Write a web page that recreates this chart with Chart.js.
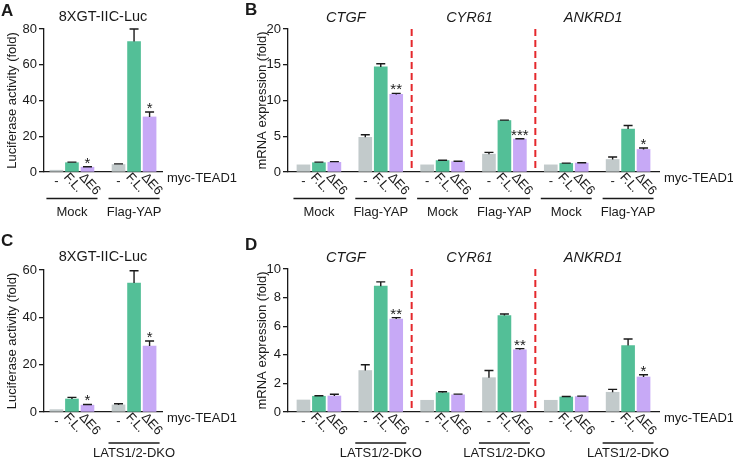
<!DOCTYPE html>
<html>
<head>
<meta charset="utf-8">
<script src="https://cdn.jsdelivr.net/npm/chart.js@4.4.0/dist/chart.umd.min.js"></script>
<style>
  body { margin: 0; background: #fff; }
  #wrap { position: relative; width: 733px; height: 458px; }
  #wrap canvas { position: absolute; left: 0; top: 0; }
</style>
</head>
<body>
<div id="wrap">
  <canvas id="chartA" width="733" height="458"></canvas>
  <canvas id="chartB" width="733" height="458"></canvas>
  <canvas id="chartC" width="733" height="458"></canvas>
  <canvas id="chartD" width="733" height="458"></canvas>
</div>
<script>
// Categories
const treatments = ['-', 'F.L.', 'ΔE6'];
const genes = ['CTGF', 'CYR61', 'ANKRD1'];
const groupsTop = ['Mock', 'Flag-YAP'];
const groupsBottom = ['', 'LATS1/2-DKO'];

// Panel A - luciferase, Mock / Flag-YAP
const lucAMean = [1.0, 5.2, 2.7, 4.2, 73.0, 30.8];
const lucAErr = [0, 0.3, 0.25, 0.35, 7.0, 2.8];
const lucAStars = ['', '', '*', '', '', '*'];

// Panel C - luciferase, LATS1/2-DKO
const lucCMean = [1.0, 5.5, 2.9, 3.0, 54.5, 27.9];
const lucCErr = [0, 0.7, 0.3, 0.5, 5.2, 2.1];
const lucCStars = ['', '', '*', '', '', '*'];

// Panel B - mRNA, CTGF / CYR61 / ANKRD1 x Mock / Flag-YAP
const mrnaBMean = [1.0, 1.3, 1.35, 4.85, 14.7, 10.85, 1.0, 1.6, 1.45, 2.5, 7.2, 4.6, 1.0, 1.2, 1.25, 1.75, 6.0, 3.15];
const mrnaBErr = [0, 0.08, 0.1, 0.35, 0.45, 0.15, 0, 0.05, 0.05, 0.25, 0.06, 0.05, 0, 0.04, 0.04, 0.35, 0.5, 0.2];
const mrnaBStars = ['', '', '', '', '', '**', '', '', '', '', '', '***', '', '', '', '', '', '*'];

// Panel D - mRNA, LATS1/2-DKO
const mrnaDMean = [0.84, 1.1, 1.12, 2.9, 8.8, 6.5, 0.82, 1.35, 1.2, 2.4, 6.75, 4.35, 0.82, 1.05, 1.08, 1.38, 4.65, 2.45];
const mrnaDErr = [0, 0.04, 0.12, 0.4, 0.3, 0.1, 0, 0.07, 0.05, 0.5, 0.1, 0.08, 0, 0.03, 0.03, 0.2, 0.45, 0.15];
const mrnaDStars = ['', '', '', '', '', '**', '', '', '', '', '', '**', '', '', '', '', '', '*'];

const barColors = ['#c2cacb', '#53bf97', '#c7a9f6'];
const FONT = "'Liberation Sans', Arial, sans-serif";
const INK = '#1a1a1a';

function makePanel(cfg) {
  // slot positions: 3 bars per group, one empty slot between groups
  const xs = cfg.means.map((v, i) => Math.floor(i / 3) * 4 + (i % 3) + 1);
  const points = cfg.means.map((v, i) => ({ x: xs[i], y: v }));
  const colors = cfg.means.map((v, i) => barColors[i % 3]);
  const nGroups = cfg.means.length / 3;

  const decor = {
    id: 'decor',
    afterDatasetsDraw(chart) {
      const ctx = chart.ctx;
      const xScale = chart.scales.x;
      const yScale = chart.scales.y;
      const area = chart.chartArea;
      const bars = chart.getDatasetMeta(0).data;
      const axisY = area.bottom;
      ctx.save();

      // Error bars (upper only) and significance stars
      bars.forEach((bar, i) => {
        const yMean = yScale.getPixelForValue(cfg.means[i]);
        const yTop = yScale.getPixelForValue(cfg.means[i] + cfg.errs[i]);
        if (cfg.errs[i] > 0) {
          ctx.strokeStyle = INK;
          ctx.lineWidth = 1.4;
          ctx.beginPath();
          ctx.moveTo(bar.x, yMean);
          ctx.lineTo(bar.x, yTop);
          ctx.moveTo(bar.x - 4.5, yTop);
          ctx.lineTo(bar.x + 4.5, yTop);
          ctx.stroke();
        }
        if (cfg.stars[i]) {
          ctx.fillStyle = INK;
          ctx.font = '15px ' + FONT;
          ctx.textAlign = 'center';
          ctx.textBaseline = 'alphabetic';
          ctx.fillText(cfg.stars[i], bar.x, yTop + 1);
        }
      });

      // Treatment labels under each bar
      ctx.fillStyle = INK;
      bars.forEach((bar, i) => {
        const label = treatments[i % 3];
        if (label === '-') {
          ctx.font = '13px ' + FONT;
          ctx.textAlign = 'center';
          ctx.textBaseline = 'middle';
          ctx.fillText(label, bar.x, axisY + 9);
        } else {
          ctx.save();
          ctx.translate(bar.x - 6, axisY + 3);
          ctx.rotate(48 * Math.PI / 180);
          ctx.font = '13px ' + FONT;
          ctx.textAlign = 'left';
          ctx.textBaseline = 'middle';
          ctx.fillText(label, 0, 0);
          ctx.restore();
        }
      });

      // myc-TEAD1 row label
      ctx.font = '13px ' + FONT;
      ctx.textAlign = 'left';
      ctx.textBaseline = 'middle';
      ctx.fillText('myc-TEAD1', area.right + 5, axisY + 6);

      // Group lines and names
      for (let g = 0; g < nGroups; g++) {
        const name = cfg.groups[g % cfg.groups.length];
        if (!name) continue;
        const x1 = xScale.getPixelForValue(g * 4 + 1) - 10;
        const x2 = xScale.getPixelForValue(g * 4 + 3) + 10;
        ctx.strokeStyle = INK;
        ctx.lineWidth = 1.3;
        ctx.beginPath();
        ctx.moveTo(x1, cfg.groupLineY);
        ctx.lineTo(x2, cfg.groupLineY);
        ctx.stroke();
        ctx.font = '13px ' + FONT;
        ctx.textAlign = 'center';
        ctx.textBaseline = 'middle';
        ctx.fillText(name, (x1 + x2) / 2, cfg.groupTextY);
      }

      // Gene sections: red dashed separators and italic titles
      if (cfg.sections) {
        cfg.sections.forEach((gene, s) => {
          if (s > 0) {
            const xs0 = xScale.getPixelForValue(s * 8);
            ctx.strokeStyle = '#e5282c';
            ctx.lineWidth = 2;
            ctx.setLineDash([7, 4]);
            ctx.beginPath();
            ctx.moveTo(xs0, area.top);
            ctx.lineTo(xs0, area.bottom);
            ctx.stroke();
            ctx.setLineDash([]);
          }
          ctx.font = 'italic 14.5px ' + FONT;
          ctx.textAlign = 'center';
          ctx.textBaseline = 'middle';
          ctx.fillText(gene, xScale.getPixelForValue(s * 8 + 4) - 4, cfg.titleY);
        });
      } else {
        ctx.font = '14.5px ' + FONT;
        ctx.textAlign = 'center';
        ctx.textBaseline = 'middle';
        ctx.fillText(cfg.title, (area.left + area.right) / 2, cfg.titleY);
      }

      // Panel letter
      ctx.font = 'bold 17px ' + FONT;
      ctx.textAlign = 'left';
      ctx.textBaseline = 'alphabetic';
      ctx.fillText(cfg.letter, cfg.letterX, cfg.letterY);

      ctx.restore();
    }
  };

  return new Chart(document.getElementById(cfg.id), {
    type: 'bar',
    data: {
      datasets: [{
        data: points,
        backgroundColor: colors,
        borderWidth: 0,
        barThickness: 13
      }]
    },
    options: {
      responsive: false,
      animation: false,
      events: [],
      layout: {
        padding: { left: cfg.padLeft, top: cfg.top, right: 733 - cfg.right, bottom: 458 - cfg.bottom }
      },
      plugins: {
        legend: { display: false },
        tooltip: { enabled: false }
      },
      scales: {
        x: {
          type: 'linear',
          offset: false,
          min: cfg.xMin,
          max: cfg.xMax,
          ticks: { display: false },
          grid: { display: false },
          border: { display: true, color: INK, width: 1.3 },
          afterFit: s => { s.height = 0; }
        },
        y: {
          min: 0,
          max: cfg.yMax,
          ticks: { stepSize: cfg.yStep, color: INK, padding: 2, font: { family: FONT, size: 13 } },
          grid: { drawOnChartArea: false, drawTicks: true, tickLength: 5, color: INK, lineWidth: 1.3 },
          border: { display: true, color: INK, width: 1.3 },
          title: {
            display: true,
            text: cfg.yTitle,
            color: INK,
            font: { family: FONT, size: 13 },
            padding: { top: 5, bottom: 0 }
          },
          afterFit: s => { s.width = cfg.axisW; }
        }
      }
    },
    plugins: [decor]
  });
}

makePanel({
  id: 'chartA', means: lucAMean, errs: lucAErr, stars: lucAStars, groups: groupsTop,
  title: '8XGT-IIC-Luc', titleY: 17, letter: 'A', letterX: 1, letterY: 16,
  yMax: 80, yStep: 20, yTitle: 'Luciferase activity (fold)',
  padLeft: 0, axisW: 44, top: 29, bottom: 172, right: 162, xMin: 0.2, xMax: 7.8,
  groupLineY: 198.5, groupTextY: 212
});

makePanel({
  id: 'chartB', means: mrnaBMean, errs: mrnaBErr, stars: mrnaBStars, groups: groupsTop,
  sections: genes, titleY: 18, letter: 'B', letterX: 245, letterY: 15,
  yMax: 20, yStep: 5, yTitle: 'mRNA expression (fold)',
  padLeft: 250, axisW: 38, top: 29, bottom: 172, right: 659, xMin: 0, xMax: 24,
  groupLineY: 198.5, groupTextY: 212
});

makePanel({
  id: 'chartC', means: lucCMean, errs: lucCErr, stars: lucCStars, groups: groupsBottom,
  title: '8XGT-IIC-Luc', titleY: 257, letter: 'C', letterX: 1, letterY: 246,
  yMax: 60, yStep: 20, yTitle: 'Luciferase activity (fold)',
  padLeft: 0, axisW: 44, top: 270, bottom: 412, right: 162, xMin: 0.2, xMax: 7.8,
  groupLineY: 443, groupTextY: 453
});

makePanel({
  id: 'chartD', means: mrnaDMean, errs: mrnaDErr, stars: mrnaDStars, groups: groupsBottom,
  sections: genes, titleY: 258, letter: 'D', letterX: 245, letterY: 250,
  yMax: 10, yStep: 2, yTitle: 'mRNA expression (fold)',
  padLeft: 250, axisW: 38, top: 269, bottom: 412, right: 659, xMin: 0, xMax: 24,
  groupLineY: 443, groupTextY: 453
});
</script>
</body>
</html>
